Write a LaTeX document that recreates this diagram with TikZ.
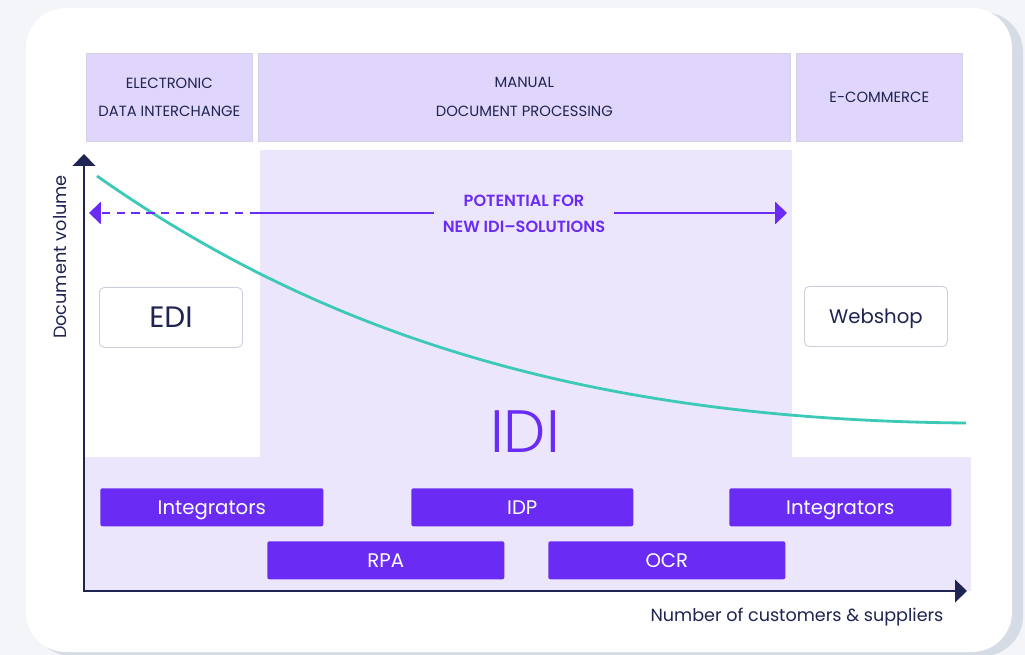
\documentclass[tikz,border=0pt]{standalone}
\usepackage{fontspec}
\setmainfont{Poppins}
\newfontfamily\idilight{Poppins Light}
\newfontfamily\potsemi{Poppins SemiBold}
\usepackage{tikz}
\usetikzlibrary{arrows.meta}

\definecolor{pagebg}{HTML}{F4F5F8}
\definecolor{cardshadow}{HTML}{D6DCE6}
\definecolor{hdrfill}{HTML}{E0D5FA}
\definecolor{hdredge}{HTML}{D6D0E4}
\definecolor{zonefill}{HTML}{ECE6FD}
\definecolor{idiviolet}{HTML}{6A2CF4}
\definecolor{navy}{HTML}{1F2452}
\definecolor{curveteal}{HTML}{3CC9B8}
\definecolor{boxedge}{HTML}{C9CFDB}

\begin{document}
\begin{tikzpicture}[x=0.025cm,y=-0.025cm,
    hdr/.style={anchor=north west,inner sep=0,fill=hdrfill,draw=hdredge,line width=0.4pt,
      minimum height=2.2cm,align=center,text=navy,font=\fontsize{10.5}{20.5}\selectfont},
    zone/.style={anchor=north west,inner sep=0,fill=zonefill},
    sysbox/.style={anchor=north west,inner sep=0,fill=white,draw=boxedge,line width=0.6pt,
      rounded corners=3.5pt,minimum width=3.575cm,minimum height=1.5cm,text=navy,text depth=0pt},
    tool/.style={anchor=north west,inner sep=0,fill=idiviolet,rounded corners=1.5pt,
      minimum height=0.95cm,text=white,text depth=0pt,font=\fontsize{14}{16}\selectfont},
    axis/.style={navy,line width=1.4pt,-{Triangle[width=16pt,length=8.5pt]}},
    potline/.style={idiviolet,line width=1.1pt}]
    \useasboundingbox (0,0) rectangle (1025,655);
    \fill[pagebg] (0,0) rectangle (1025,655);
    \fill[cardshadow,rounded corners=1cm] (32,12) rectangle (1023,656);
    \fill[white,rounded corners=1cm] (26,8) rectangle (1012,652);

    % header row
    \node[hdr,minimum width=4.15cm] (hedi) at (86,53) {ELECTRONIC\\DATA INTERCHANGE};
    \node[hdr,minimum width=13.3cm] (hman) at (258,53) {MANUAL\\DOCUMENT PROCESSING};
    \node[hdr,minimum width=4.15cm] (hcom) at (796,53) {E-COMMERCE};

    % shaded zones
    \node[zone,minimum width=13.3cm,minimum height=7.7cm] (idizone) at (260,150) {};
    \node[zone,minimum width=22.15cm,minimum height=3.35cm] (toolzone) at (84,457) {};
    \node[text=idiviolet,font=\idilight\fontsize{42.5}{50}\selectfont] (idi) at (525,432) {IDI};

    % document volume curve
    \coordinate (cstart) at (97,176);
    \coordinate (cend) at (966,423);
    \draw[curveteal,line width=2pt] (cstart) .. controls (330,340) and (600,420) .. (cend);

    % potential arrow
    \node[text=idiviolet,font=\potsemi\fontsize{11.5}{18.5}\selectfont,align=center,inner sep=6pt] (pot) at (524,214) {POTENTIAL FOR\\NEW IDI–SOLUTIONS};
    \coordinate (dashstart) at (258,213);
    \coordinate (lefttip) at (89,213);
    \coordinate (righttip) at (787,213);
    \draw[potline] (pot.west |- dashstart) -- (dashstart);
    \draw[potline,dash pattern=on 6pt off 4.5pt,-{Triangle[width=16pt,length=8.5pt]}] (dashstart) -- (lefttip);
    \draw[potline,-{Triangle[width=16pt,length=8.5pt]}] (pot.east |- righttip) -- (righttip);

    % systems
    \node[sysbox,font=\fontsize{21}{24}\selectfont] (edi) at (99,287) {EDI};
    \node[sysbox,font=\fontsize{14}{17}\selectfont] (shop) at (804,286) {Webshop};

    % tools
    \node[tool,minimum width=5.575cm] (integl) at (100,488) {Integrators};
    \node[tool,minimum width=5.55cm] (idp) at (411,488) {IDP};
    \node[tool,minimum width=5.55cm] (integr) at (729,488) {Integrators};
    \node[tool,minimum width=5.925cm] (rpa) at (267,541) {RPA};
    \node[tool,minimum width=5.925cm] (ocr) at (548,541) {OCR};

    % axes
    \coordinate (origin) at (84,591);
    \coordinate (ytip) at (84,154);
    \coordinate (xtip) at (967,591);
    \draw[axis] (origin) -- (ytip);
    \draw[axis] ([xshift=-0.7pt]origin) -- (xtip);
    \node[rotate=90,text=navy,font=\fontsize{12.6}{15}\selectfont] (ylab) at (60,257) {Document volume};
    \node[text=navy,font=\fontsize{12.5}{15}\selectfont] (xlab) at (797,617) {Number of customers \& suppliers};
\end{tikzpicture}
\end{document}
